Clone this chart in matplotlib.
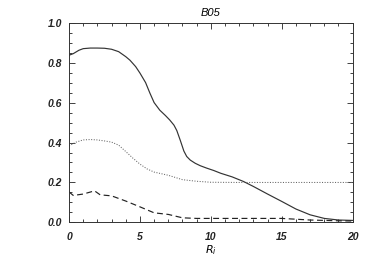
import numpy as np
import matplotlib.pyplot as plt
from matplotlib.ticker import MultipleLocator

# solid curve
x_solid = [0, 0.3, 0.7, 1, 1.5, 2, 2.5, 3, 3.5, 4, 4.3, 4.7, 5, 5.4, 5.7, 6, 6.4, 6.8,
           7.1, 7.4, 7.6, 7.85, 8.1, 8.3, 8.55, 8.9, 9.25, 9.7, 10.2, 10.7,
           11.5, 12.3, 13, 14, 15, 16, 17, 18, 19, 20]
y_solid = [0.837, 0.845, 0.862, 0.870, 0.873, 0.873, 0.872, 0.867, 0.855, 0.830, 0.812,
           0.780, 0.748, 0.700, 0.648, 0.600, 0.562, 0.535, 0.513, 0.487, 0.460, 0.410,
           0.357, 0.330, 0.312, 0.296, 0.284, 0.272, 0.260, 0.246,
           0.228, 0.205, 0.180, 0.142, 0.105, 0.067, 0.038, 0.020, 0.012, 0.010]

# dotted curve
x_dot = [0, 0.5, 1, 1.5, 2, 2.5, 3, 3.5, 4, 4.5, 5, 5.5, 6, 7, 8, 9, 10, 12, 14, 16, 18, 20]
y_dot = [0.383, 0.402, 0.413, 0.415, 0.413, 0.408, 0.402, 0.387, 0.355, 0.322, 0.292,
         0.268, 0.252, 0.236, 0.214, 0.206, 0.201, 0.200, 0.200, 0.200, 0.200, 0.200]

# dashed curve
x_dash = [0, 0.3, 1, 1.8, 2.2, 3, 4, 5, 6, 7, 8, 9, 12, 15, 17, 19, 20]
y_dash = [0.153, 0.135, 0.142, 0.158, 0.138, 0.133, 0.107, 0.078, 0.048, 0.040, 0.023,
          0.020, 0.020, 0.020, 0.012, 0.008, 0.007]

plt.rcParams['font.family'] = ['Liberation Sans', 'DejaVu Sans']

fig = plt.figure(figsize=(3.74, 2.67), dpi=100)
ax = fig.add_axes([0.1845, 0.167, 0.7585, 0.748])

ax.plot(x_solid, y_solid, color='#333333', lw=0.85, ls='-')
ax.plot(x_dot, y_dot, color='#666666', lw=0.75, ls=(0, (1, 1.5)))
ax.plot(x_dash, y_dash, color='#222222', lw=0.85, ls=(0, (5, 3)))

ax.set_xlim(0, 20)
ax.set_ylim(0, 1.0)
ax.xaxis.set_major_locator(MultipleLocator(5))
ax.xaxis.set_minor_locator(MultipleLocator(1))
ax.yaxis.set_major_locator(MultipleLocator(0.2))
ax.yaxis.set_minor_locator(MultipleLocator(0.05))
ax.set_yticklabels(['%.1f' % v for v in ax.get_yticks()])
ax.tick_params(which='both', direction='in', top=True, right=True, width=0.6,
               labelsize=7.5, colors='#222222')
ax.tick_params(which='major', length=4)
ax.tick_params(axis='x', which='major', pad=7)
ax.tick_params(axis='y', which='major', pad=5)
ax.tick_params(which='minor', length=2)
for lab in ax.get_xticklabels() + ax.get_yticklabels():
    lab.set_fontstyle('italic')
    lab.set_fontweight('bold')
for s in ax.spines.values():
    s.set_linewidth(0.7)
    s.set_color('#333333')

ax.set_title('B05', fontsize=8, fontstyle='italic', pad=5)
ax.set_xlabel('$R_i$', fontsize=8, labelpad=1)

fig.savefig('out.png', dpi=100)
